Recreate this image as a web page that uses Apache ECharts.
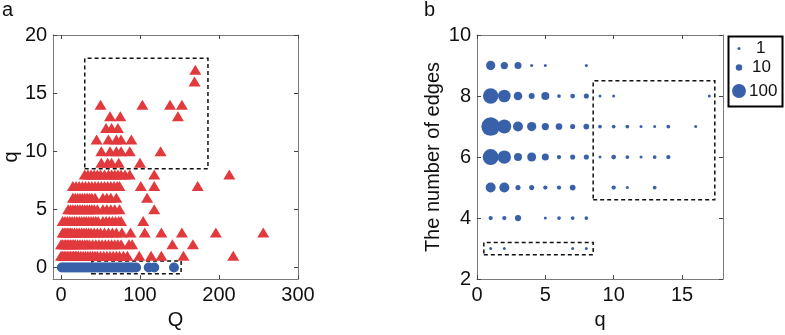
<!DOCTYPE html>
<html>
<head>
<meta charset="utf-8">
<script src="https://cdn.jsdelivr.net/npm/echarts@6/dist/echarts.min.js"></script>
<style>
  html, body { margin: 0; padding: 0; background: #fff; }
  #chart { width: 785px; height: 335px; }
</style>
</head>
<body>
<div id="chart"></div>
<script>
// panel a: circles on q = 0, their Q values
const circleQ = [1, 4, 7, 10, 13, 16, 19, 22, 25, 28, 31, 34, 37, 40, 43, 46, 49, 52, 55, 58,
  61, 64, 67, 70, 73, 76, 79, 82, 85, 88, 91, 95, 111, 118, 143];

// panel a: triangles, Q values for each q (index = q)
const triangleRows = [
  [],
  [0, 2, 4, 6, 8, 10, 12, 14, 16, 18, 20, 22, 25, 28, 31, 34, 37, 40, 43, 46, 50, 54, 58, 62, 66, 70, 74, 79, 84, 99, 114, 127, 155, 218],
  [0, 2, 4, 6, 8, 10, 12, 14, 16, 18, 21, 24, 27, 30, 33, 36, 40, 44, 48, 52, 56, 60, 64, 68, 72, 76, 86, 90, 141, 167],
  [2, 4, 6, 8, 10, 12, 14, 17, 20, 23, 26, 29, 32, 35, 38, 42, 46, 50, 55, 60, 65, 70, 77, 88, 106, 127, 153, 196, 256],
  [2, 5, 8, 11, 14, 17, 20, 23, 26, 29, 32, 35, 38, 41, 44, 47, 53, 57, 61, 65, 69, 73, 76, 104],
  [9, 12, 15, 18, 21, 24, 27, 30, 33, 36, 39, 42, 46, 53, 58, 63, 68, 74, 118],
  [15, 18, 21, 24, 27, 30, 33, 36, 39, 43, 53, 58, 63, 70, 109],
  [15, 19, 23, 27, 31, 35, 39, 43, 47, 51, 55, 59, 63, 67, 71, 74, 101, 118, 173],
  [30, 34, 38, 42, 46, 50, 55, 60, 64, 68, 72, 76, 81, 87, 118, 213],
  [51, 59, 64, 73, 100],
  [51, 62, 70, 76, 87, 126],
  [45, 60, 70, 76, 89],
  [57, 64, 72],
  [62, 75, 148],
  [50, 103, 138, 153],
  [],
  [169],
  [170]
];

// panel b: [q, number of edges, count]
const bubbles = [
  [1, 9, 30], [2, 9, 14], [3, 9, 13], [4, 9, 1], [5, 9, 1], [8, 9, 1],
  [1, 8, 133], [2, 8, 75], [3, 8, 24], [4, 8, 8], [5, 8, 19], [6, 8, 2], [7, 8, 4], [8, 8, 5], [9, 8, 1], [10, 8, 1], [17, 8, 1],
  [1, 7, 240], [2, 7, 100], [3, 7, 37], [4, 7, 30], [5, 7, 14], [6, 7, 11], [7, 7, 5], [8, 7, 7], [9, 7, 2], [10, 7, 2],
  [11, 7, 2], [12, 7, 1], [13, 7, 1], [14, 7, 2], [16, 7, 1],
  [1, 6, 150], [2, 6, 88], [3, 6, 19], [4, 6, 27], [5, 6, 13], [6, 6, 3], [7, 6, 5], [8, 6, 5], [9, 6, 1], [10, 6, 4],
  [11, 6, 2], [12, 6, 1], [13, 6, 2], [14, 6, 3],
  [1, 5, 37], [2, 5, 37], [3, 5, 5], [4, 5, 5], [5, 5, 3], [6, 5, 3], [7, 5, 7], [10, 5, 3], [11, 5, 1], [13, 5, 2],
  [1, 4, 3], [2, 4, 3], [3, 4, 9], [5, 4, 1], [6, 4, 2], [7, 4, 2], [8, 4, 2],
  [1, 3, 1], [2, 3, 1], [7, 3, 1], [8, 3, 1]
];
const legendCounts = [1, 10, 100];

// tick labels
const ticksQ = [0, 100, 200, 300];
const ticksqA = [0, 5, 10, 15, 20];
const ticksqB = [0, 5, 10, 15];
const ticksEdges = [2, 4, 6, 8, 10];

const FONT = 'Liberation Sans, Arial, sans-serif';
const RED = '#e1393c';
const BLUE = '#3961aa';
const bubbleSize = c => 3 * Math.cbrt(c);

const textStyle = {fontSize: 20, color: '#111', fontFamily: FONT};

function axis(gridIndex, min, max, ticks, position, labels, name, nameGap) {
  return {
    gridIndex,
    type: 'value',
    min,
    max,
    position,
    axisLine: {show: true, onZero: false, lineStyle: {color: '#7a7a7a', width: 1}},
    axisTick: {show: true, inside: true, length: 4, customValues: ticks, lineStyle: {color: '#444'}},
    axisLabel: {show: labels, customValues: ticks, margin: 6, ...textStyle},
    splitLine: {show: false},
    name: labels ? name : '',
    nameLocation: 'middle',
    nameGap,
    nameTextStyle: textStyle
  };
}

const dashed = {color: 'rgba(0,0,0,0)', borderColor: '#111', borderWidth: 1.5, borderType: [4, 3]};

const chart = echarts.init(document.getElementById('chart'));
chart.setOption({
  animation: false,
  title: [
    {text: 'a', left: 2, top: 0, padding: 0, textStyle: {...textStyle, fontWeight: 'normal'}},
    {text: 'b', left: 424, top: 0, padding: 0, textStyle: {...textStyle, fontWeight: 'normal'}}
  ],
  grid: [
    {left: 52, top: 35, width: 246, height: 248},
    {left: 477, top: 35, width: 246, height: 248}
  ],
  xAxis: [
    axis(0, -10, 300, ticksQ, 'bottom', true, 'Q', 26),
    axis(0, -10, 300, ticksQ, 'top', false),
    axis(1, 0, 18, ticksqB, 'bottom', true, 'q', 26),
    axis(1, 0, 18, ticksqB, 'top', false)
  ],
  yAxis: [
    axis(0, -1, 20, ticksqA, 'left', true, 'q', 30),
    axis(0, -1, 20, ticksqA, 'right', false),
    axis(1, 2, 10, ticksEdges, 'left', true, 'The number of edges', 34),
    axis(1, 2, 10, ticksEdges, 'right', false)
  ],
  series: [
    {
      type: 'scatter',
      xAxisIndex: 0,
      yAxisIndex: 0,
      symbol: 'triangle',
      symbolSize: [12, 10],
      itemStyle: {color: RED, opacity: 1},
      data: triangleRows.flatMap((row, q) => row.map(Q => [Q, q]))
    },
    {
      type: 'scatter',
      xAxisIndex: 0,
      yAxisIndex: 0,
      symbol: 'circle',
      symbolSize: 10,
      itemStyle: {color: BLUE, opacity: 1},
      data: circleQ.map(Q => [Q, 0])
    },
    {
      type: 'scatter',
      xAxisIndex: 2,
      yAxisIndex: 2,
      symbol: 'circle',
      symbolSize: v => bubbleSize(v[2]),
      itemStyle: {color: BLUE, opacity: 1},
      data: bubbles
    },
    {
      type: 'scatter',
      xAxisIndex: 0,
      yAxisIndex: 0,
      z: 10,
      data: [],
      markArea: {
        silent: true,
        itemStyle: dashed,
        data: [
          [{coord: [30, 8.5]}, {coord: [186, 18]}],
          [{coord: [39, -0.55]}, {coord: [152, 0.55]}]
        ]
      }
    },
    {
      type: 'scatter',
      xAxisIndex: 2,
      yAxisIndex: 2,
      z: 10,
      data: [],
      markArea: {
        silent: true,
        itemStyle: dashed,
        data: [
          [{coord: [8.5, 4.6]}, {coord: [17.4, 8.5]}],
          [{coord: [0.5, 2.8]}, {coord: [8.5, 3.2]}]
        ]
      }
    }
  ],
  graphic: [
    {type: 'rect', shape: {x: 728.5, y: 36.5, width: 54, height: 70}, style: {fill: '#fff', stroke: '#000', lineWidth: 2}},
    ...legendCounts.map((c, i) => ({
      type: 'circle',
      shape: {cx: 739, cy: [48.5, 67.5, 91][i], r: bubbleSize(c) / 2},
      style: {fill: BLUE}
    })),
    ...legendCounts.map((c, i) => ({
      type: 'text',
      x: [756, 752, 749][i],
      y: [48.5, 67.5, 91][i],
      style: {text: String(c), fontSize: 17, fontFamily: FONT, fill: '#111', verticalAlign: 'middle', align: 'left'}
    }))
  ]
});
</script>
</body>
</html>
